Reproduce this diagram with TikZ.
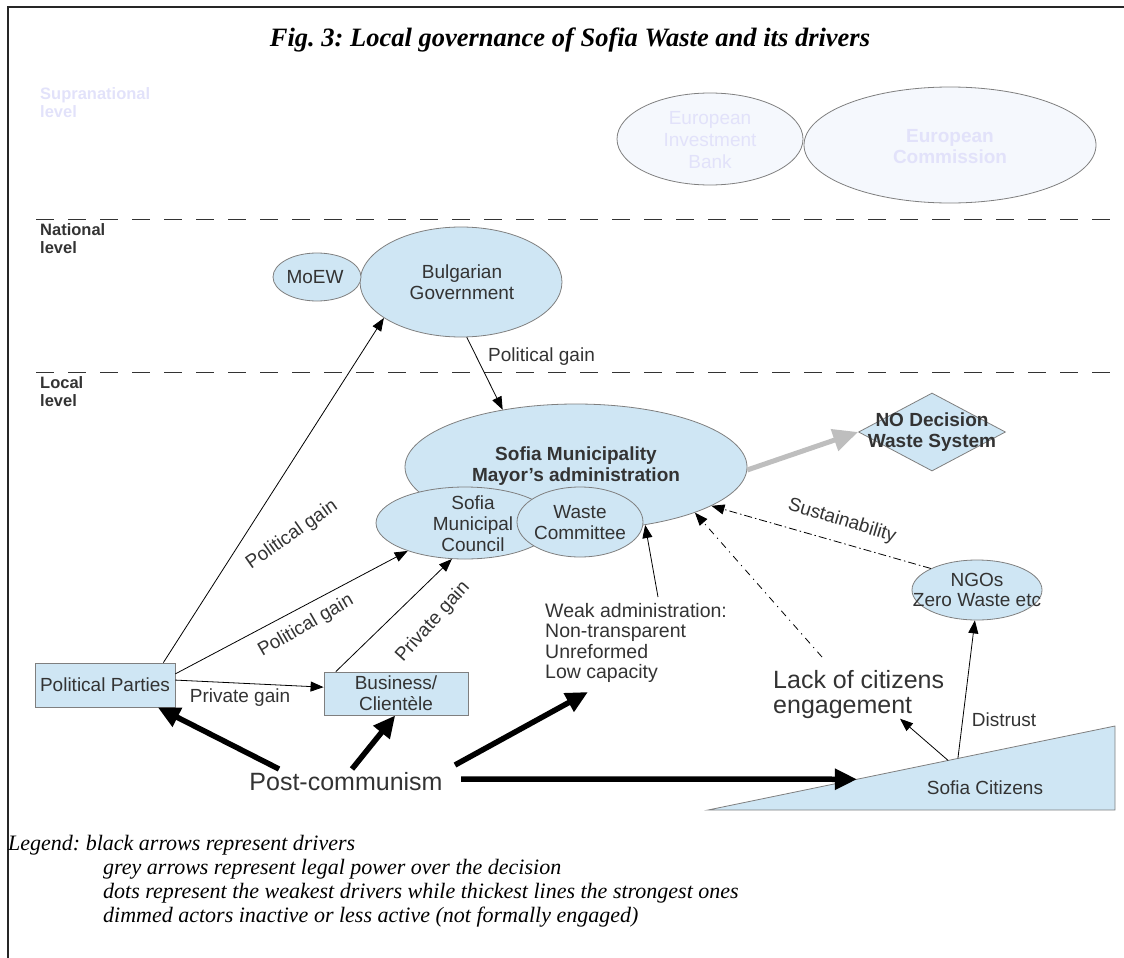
\documentclass[tikz,border=0pt]{standalone}
\usepackage{fontspec}
\setmainfont{Liberation Sans}
\newfontfamily\tnrfont{Liberation Serif}
\usetikzlibrary{arrows.meta,shapes.geometric,calc}
\definecolor{fillb}{HTML}{CFE6F4}
\definecolor{edgeg}{HTML}{7F7F7F}
\definecolor{txtc}{HTML}{333333}
\definecolor{dimfill}{HTML}{F5F8FD}
\definecolor{dimtxt}{HTML}{E2E2FA}
\definecolor{greyarr}{HTML}{BEBEBE}
\frenchspacing
\begin{document}
\begin{tikzpicture}[x=1pt,y=-1pt,
  ell/.style={ellipse,draw=edgeg,fill=fillb,line width=0.8pt,inner sep=0pt},
  dell/.style={ellipse,draw=edgeg,fill=dimfill,line width=0.8pt,inner sep=0pt},
  boxn/.style={rectangle,draw=edgeg,fill=fillb,line width=0.8pt,inner sep=0pt},
  lab/.style={text=txtc,font=\fontsize{19}{21}\selectfont,align=center,inner sep=0pt},
  labb/.style={text=txtc,font=\fontsize{19}{21}\selectfont\bfseries,align=center,inner sep=0pt},
  dlab/.style={text=dimtxt,font=\fontsize{19}{22}\selectfont,align=center,inner sep=0pt},
  dlabb/.style={text=dimtxt,font=\fontsize{19}{21}\selectfont\bfseries,align=center,inner sep=0pt},
  lvl/.style={text=txtc,font=\fontsize{16.5}{18}\selectfont\bfseries,align=left,inner sep=0pt,anchor=north west},
  lvlline/.style={draw=txtc,line width=1pt,dash pattern=on 18pt off 14pt},
  drv/.style={draw=black,line width=0.8pt,-{Triangle[length=13pt,width=10pt]}},
  strong/.style={draw=black,line width=5.5pt,-{Triangle[length=22pt,width=20pt]}},
  legal/.style={draw=greyarr,line width=5pt,-{Triangle[length=25pt,width=22pt]}},
  sustdash/.style={dash pattern=on 8pt off 3pt on 1.5pt off 3pt},
  lackdash/.style={dash pattern=on 7pt off 5pt on 1.2pt off 5pt},
  legendtxt/.style={font=\tnrfont\itshape\fontsize{22}{24}\selectfont,inner sep=0pt,anchor=base west}
]
\useasboundingbox (0,0) rectangle (1124,958);
% frame
\draw[line width=1.5pt,black!85] (8,958) -- (8,7) -- (1124,7);
% title
\node[font=\tnrfont\bfseries\itshape\fontsize{26.5}{30}\selectfont,inner sep=0pt] (title) at (570,40) {Fig. 3: Local governance of Sofia Waste and its drivers};

% levels
\node[lvl,text=dimtxt] (supra) at (40,87) {Supranational\\level};
\draw[lvlline] (36,219) -- (1124,219);
\node[lvl] (natl) at (40,223) {National\\level};
\draw[lvlline] (36,372) -- (1124,372);
\node[lvl] (locl) at (40,376) {Local\\level};

% supranational actors
\node[dell,minimum width=186,minimum height=92] (eib) at (710,139) {};
\node[dlab] (eibT) at (710,140) {European\\Investment\\Bank};
\node[dell,minimum width=292,minimum height=116] (ec) at (950,145) {};
\node[dlabb] (ecT) at (950,147) {European\\Commission};

% national actors
\node[ell,minimum width=202,minimum height=110] (bg) at (461,282) {};
\node[lab] (bgT) at (462,282) {Bulgarian\\Government};
\node[ell,minimum width=88,minimum height=48] (moew) at (317,277) {};
\node[lab] (moewT) at (315,277) {MoEW};

% local actors
\node[ell,minimum width=342,minimum height=126] (sm) at (576,467) {};
\node[labb] (smT) at (576,466) {Sofia Municipality\\Mayor's administration};
\node[ell,minimum width=178,minimum height=72] (smc) at (465,523) {};
\node[lab] (smcT) at (473,524) {Sofia\\Municipal\\Council};
\node[ell,minimum width=126,minimum height=70] (wc) at (580,522) {};
\node[lab] (wcT) at (580,523) {Waste\\Committee};

\node[diamond,draw=edgeg,fill=fillb,line width=0.8pt,inner sep=0pt,minimum width=147,minimum height=78] (dec) at (932,432) {};
\node[labb] (decT) at (932,432) {NO Decision\\Waste System};

\node[ell,minimum width=130,minimum height=60] (ngo) at (977,590) {};
\node[lab,font=\fontsize{19}{20}\selectfont] (ngoT) at (977,590) {NGOs\\Zero Waste etc};

\node[boxn,minimum width=140,minimum height=44] (pp) at (105,685) {};
\node[lab] (ppT) at (105,685) {Political Parties};
\node[boxn,minimum width=144,minimum height=43] (biz) at (396,693.5) {};
\node[lab] (bizT) at (396,693.5) {Business/\\Clientèle};

\node[text=txtc,font=\fontsize{25}{28}\selectfont,inner sep=0pt] (pc) at (346,782) {Post-communism};
\node[text=txtc,font=\fontsize{19.5}{20.5}\selectfont,align=left,inner sep=0pt,anchor=north west] (wk) at (545,603) {Weak administration:\\Non-transparent\\Unreformed\\Low capacity};
\node[text=txtc,font=\fontsize{25}{25}\selectfont,align=left,inner sep=0pt,anchor=north west] (lack) at (773,670) {Lack of citizens\\engagement};

% citizens wedge
\coordinate (ta) at (708,810);
\coordinate (tb) at (1115,810);
\coordinate (tc) at (1115,726);
\draw[draw=edgeg,fill=fillb,line width=0.8pt] (ta) -- (tb) -- (tc) -- cycle;
\node[lab] (sc) at (985,788) {Sofia Citizens};
\coordinate (hp) at ($(ta)!0.366!(tc)$);
\coordinate (dp) at ($(ta)!0.614!(tc)$);
\coordinate (lp) at ($(ta)!0.59!(tc)$);
\coordinate (wtip) at (588,692);

% driver arrows
\draw[drv] (bg.-84) -- (sm.142.4);
\node[lab,anchor=west] (pg0) at (488,357) {Political gain};
\draw[drv] (pp.21.1) -- (bg.205);
\node[lab,rotate=35] (pg1) at (292,535) {Political gain};
\draw[drv] (pp.9.5) -- (smc.206.1);
\node[lab,rotate=30] (pg2) at (306,626) {Political gain};
\draw[drv] (biz.160) -- (smc.250);
\node[lab,rotate=48] (prg1) at (433,622) {Private gain};
\draw[drv] (pp.4.8) -- (biz.175.6);
\node[lab] (prg2) at (240,698) {Private gain};
\draw[drv] ([xshift=113pt,yshift=6pt]wk.north west) -- (sm.-40);
\draw[legal] (sm.-1) -- (dec.west);
\draw[drv,sustdash] (ngo.155.9) -- (sm.-16);
\node[lab,rotate=-17] (sust) at (842,521) {Sustainability};
\draw[drv,lackdash] ([xshift=49pt,yshift=13pt]lack.north west) -- (sm.-21);
\draw[drv] (dp) -- (ngo.-94);
\node[lab] (dis) at (1004,720) {Distrust};
\draw[drv] (lp) -- ([xshift=127pt]lack.south west);

% strongest drivers
\draw[strong] ([shift={(-67,-13)}]pc.center) -- (pp.-23.7);
\draw[strong] ([shift={(6,-13)}]pc.center) -- (biz.-92);
\draw[strong] ([shift={(109,-17)}]pc.center) -- (wtip);
\draw[strong] ([shift={(115,-3)}]pc.center) -- (hp);

% legend
\node[legendtxt] (lg1) at (8,850) {Legend: black arrows represent drivers};
\node[legendtxt] (lg2) at (103,874) {grey arrows represent legal power over the decision};
\node[legendtxt] (lg3) at (103,898) {dots represent the weakest drivers while thickest lines the strongest ones};
\node[legendtxt] (lg4) at (103,922) {dimmed actors inactive or less active (not formally engaged)};
\end{tikzpicture}
\end{document}
